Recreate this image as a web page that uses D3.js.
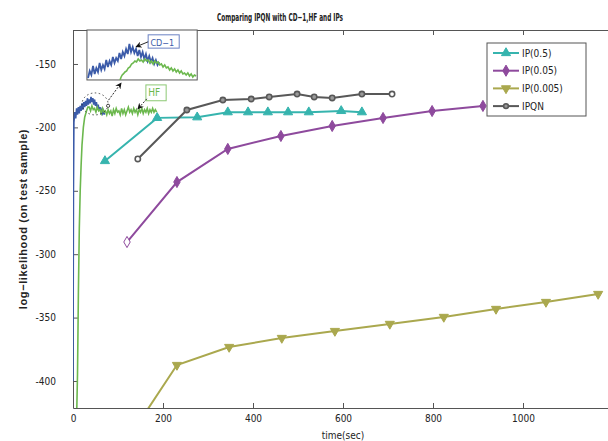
<!DOCTYPE html>
<html lang="en">
<head>
<meta charset="UTF-8">
<title>Comparing IPQN with CD-1, HF and IPs</title>
<script src="https://cdn.jsdelivr.net/npm/d3@7"></script>
<style>
  body { margin: 0; background: #fff; }
  text { font-family: "Liberation Sans Narrow", "DejaVu Sans Condensed", "Liberation Sans", sans-serif; fill: #222; }
</style>
</head>
<body>
<script>
// axis ticks
const xTicks = [0, 200, 400, 600, 800, 1000];
const yTicks = [-150, -200, -250, -300, -350, -400];

// IP runs: time (sec) vs log-likelihood on test sample
const ip05Time = [71, 187, 276, 344, 389, 433, 478, 524, 596, 642];
const ip05LL = [-226.5, -192.5, -192, -188, -188, -188, -188, -188, -187, -188];

const ip005Time = [120, 231, 344, 462, 576, 689, 798, 911];
const ip005LL = [-290.4, -243.1, -217, -206.8, -198.9, -192.6, -187.1, -183.1];

const ip0005Time = [120, 231, 347, 464, 582, 704, 824, 940, 1051, 1167];
const ip0005LL = [-447, -387.4, -373.2, -366.1, -360.6, -355, -349.5, -343.2, -337.7, -331.4];

const ipqnTime = [144, 253, 333, 396, 436, 498, 536, 576, 642, 709];
const ipqnLL = [-224.9, -186.3, -178.4, -177.6, -176, -173.7, -176, -176.8, -173.7, -173.7];

// CD-1 and HF traces (noisy, early seconds)
const cdTime = [0, 1, 2, 4, 6, 8, 10, 12, 14, 16, 18, 20, 22, 24, 26, 28, 30, 32, 34, 36, 38,
  40, 42, 44, 46, 48, 50, 52, 54, 56, 58, 60, 62, 64, 66, 68, 70];
const cdLL = [-400, -250, -196, -188, -193, -185, -190, -184, -189, -183, -187, -181, -186, -180,
  -184, -179, -183, -177, -182, -178, -181, -176, -180, -177, -182, -178, -183, -180, -185, -182,
  -187, -184, -188, -186, -189, -187, -190];

const hfTime = [8, 10, 12, 14, 16, 18, 20, 23, 26, 30, 33,
  36, 39, 42, 45, 48, 51, 54, 57, 60, 63, 66, 69, 72, 75, 78, 81, 84, 87, 90, 93,
  96, 99, 102, 105, 108, 111, 114, 117, 120, 123, 126, 129, 132, 135, 138, 141, 144, 147, 150, 153,
  156, 159, 162, 165, 168, 171, 174, 177, 180, 183, 186];
const hfLL = [-430, -395, -330, -280, -250, -230, -214, -200, -192, -187, -184,
  -184, -187, -183, -186, -185, -188, -184, -187, -186, -189, -185, -188, -187, -190, -186, -189, -187, -191, -186, -189,
  -185, -188, -187, -190, -185, -189, -186, -190, -187, -184, -188, -186, -189, -185, -188, -186, -190, -186, -188, -185,
  -189, -186, -188, -185, -189, -186, -188, -185, -188, -186, -188];

// zoomed inset (relative units)
const insetCdU = [1, 2.5, 4, 5.5, 7, 8.5, 10, 11.5, 13, 14.5, 16, 17.5, 19, 20.5, 22, 23.5, 25, 26.5, 28, 29.5,
  31, 32.5, 34, 35.5, 37, 38.5, 40, 41.5, 43, 44.5, 46, 47.5, 49, 50.5, 52, 53.5, 55, 56.5, 58, 59.5, 61, 62.5, 64, 65.5];
const insetCdV = [2, 9, 5, 14, 6, 12, 8, 17, 10, 15, 11, 20, 13, 19, 15, 23, 17, 22, 19, 27,
  21, 28, 24, 31, 26, 36, 28, 33, 27, 31, 24, 30, 23, 28, 21, 26, 19, 24, 18, 22, 16, 20, 15, 18];
const insetHfU = [30, 31, 32, 33, 34.5, 36, 37.5, 39, 40.5, 42, 43.5, 45, 46.5, 48, 49.5, 51, 52.5, 54, 55.5, 57,
  58.5, 60, 61.5, 63, 64.5, 66, 67.5, 69, 70.5, 72, 73.5, 75, 76.5, 78, 79.5, 81, 82.5, 84, 85.5, 87,
  88.5, 90, 91.5, 93, 94.5, 96, 97.5, 99];
const insetHfV = [0, 3, 5, 6, 8, 9, 12, 13, 16, 17, 19, 18, 21, 19, 20, 18, 21, 19, 20, 17,
  19, 16, 19, 17, 18, 15, 16, 13, 15, 12, 13, 10, 12, 9, 11, 8, 10, 7, 9, 6, 7, 5, 7, 4, 6, 3, 5, 4];

const series = [
  { name: "IP(0.5)", time: ip05Time, ll: ip05LL, color: "#36b4ae", symbol: d3.symbolTriangle, rot: 0 },
  { name: "IP(0.05)", time: ip005Time, ll: ip005LL, color: "#8e4a9d", symbol: d3.symbolDiamond, rot: 0 },
  { name: "IP(0.005)", time: ip0005Time, ll: ip0005LL, color: "#aaa84e", symbol: d3.symbolTriangle, rot: 180 },
  { name: "IPQN", time: ipqnTime, ll: ipqnLL, color: "#585858", symbol: d3.symbolCircle, rot: 0 }
];

const width = 608, height = 441;
const x = d3.scaleLinear().domain([0, 1200]).range([73, 613]);
const y = d3.scaleLinear().domain([-421.3, -123.2]).range([408, 30]);

const svg = d3.select("body").append("svg")
  .attr("width", width)
  .attr("height", height);

const defs = svg.append("defs");
defs.append("clipPath").attr("id", "plot")
  .append("rect").attr("x", 73).attr("y", 30).attr("width", 540).attr("height", 378);
defs.append("marker").attr("id", "head")
  .attr("viewBox", "0 0 10 10").attr("refX", 9).attr("refY", 5)
  .attr("markerWidth", 7).attr("markerHeight", 7).attr("orient", "auto")
  .append("path").attr("d", "M0,0L10,5L0,10L3,5Z").attr("fill", "#111");

// axes, matlab style ticks pointing inward
svg.append("g")
  .attr("transform", "translate(0,408)")
  .call(d3.axisBottom(x).tickValues(xTicks).tickSize(-5).tickSizeOuter(0).tickPadding(7).tickFormat(d => String(d)))
  .call(g => g.selectAll("text").attr("font-size", 10));
svg.append("g")
  .attr("transform", "translate(0,30)")
  .call(d3.axisTop(x).tickValues(xTicks).tickSize(-5).tickSizeOuter(0).tickFormat(""));
svg.append("g")
  .attr("transform", "translate(73,0)")
  .call(d3.axisLeft(y).tickValues(yTicks).tickSize(-5).tickSizeOuter(0).tickPadding(17).tickFormat(d => String(d)))
  .call(g => g.selectAll("text").attr("font-size", 10));
svg.selectAll(".domain, .tick line").attr("stroke", "#555");

// title and axis labels
svg.append("text")
  .attr("x", 280).attr("y", 21)
  .attr("text-anchor", "middle")
  .attr("font-size", 11).attr("font-weight", "bold")
  .attr("textLength", 126).attr("lengthAdjust", "spacingAndGlyphs")
  .text("Comparing IPQN with CD\u22121,HF and IPs");
svg.append("text")
  .attr("x", 343).attr("y", 439)
  .attr("text-anchor", "middle")
  .attr("font-size", 10)
  .text("time(sec)");
svg.append("text")
  .attr("transform", "translate(27,219) rotate(-90)")
  .attr("text-anchor", "middle")
  .attr("font-size", 11).attr("font-weight", "bold")
  .style("font-family", "'Liberation Sans', Arial, sans-serif")
  .style("letter-spacing", "0.6px")
  .text("log\u2212likelihood (on test sample)");

const plot = svg.append("g").attr("clip-path", "url(#plot)");
const line = d3.line().x(d => x(d[0])).y(d => y(d[1]));

// CD-1 and HF
plot.append("path")
  .attr("d", line(d3.zip(cdTime, cdLL)))
  .attr("fill", "none").attr("stroke", "#3b5ba9").attr("stroke-width", 1.6);
plot.append("path")
  .attr("d", line(d3.zip(hfTime, hfLL)))
  .attr("fill", "none").attr("stroke", "#6cb84e").attr("stroke-width", 1.6);

// IP and IPQN
series.forEach(s => {
  const pts = d3.zip(s.time, s.ll);
  plot.append("path")
    .attr("d", line(pts))
    .attr("fill", "none").attr("stroke", s.color).attr("stroke-width", 2);
  plot.selectAll(null)
    .data(pts)
    .join("path")
    .attr("transform", d => `translate(${x(d[0])},${y(d[1])}) rotate(${s.rot})`)
    .attr("d", d3.symbol(s.symbol, s.symbol === d3.symbolCircle ? 22 : 36))
    .attr("fill", (d, i) => {
      if (s.name === "IPQN") return (i === 0 || i === pts.length - 1) ? "#fff" : "#9a9a9a";
      if (s.name === "IP(0.05)" && i === 0) return "#fff";
      return s.color;
    })
    .attr("stroke", s.color)
    .attr("stroke-width", s.symbol === d3.symbolCircle ? 1.6 : 1);
});

// annotations around the CD-1/HF trace
const ann = svg.append("g");
ann.append("ellipse")
  .attr("cx", x(49)).attr("cy", y(-181.5)).attr("rx", 13).attr("ry", 11)
  .attr("fill", "none").attr("stroke", "#222").attr("stroke-width", 0.8)
  .attr("stroke-dasharray", "1.5,2.5");
ann.append("circle")
  .attr("cx", x(78)).attr("cy", y(-183)).attr("r", 1.6)
  .attr("fill", "#fff").attr("stroke", "#222").attr("stroke-width", 0.8);
ann.append("line")
  .attr("x1", x(79)).attr("y1", y(-178.5)).attr("x2", x(107)).attr("y2", y(-165))
  .attr("stroke", "#111").attr("stroke-width", 0.9).attr("stroke-dasharray", "2,1.5")
  .attr("marker-end", "url(#head)");

// inset
const insetX = d3.scaleLinear().domain([0, 100]).range([x(31), x(276)]);
const insetY = d3.scaleLinear().domain([0, 50]).range([y(-162.6), y(-123.2)]);
defs.append("clipPath").attr("id", "inset")
  .append("rect").attr("x", x(31)).attr("y", y(-123.2))
  .attr("width", x(276) - x(31)).attr("height", y(-162.6) - y(-123.2));
ann.append("rect")
  .attr("x", x(31)).attr("y", y(-123.2))
  .attr("width", x(276) - x(31)).attr("height", y(-162.6) - y(-123.2))
  .attr("fill", "#fff").attr("stroke", "#555").attr("stroke-width", 1);
const insetLine = d3.line().x(d => insetX(d[0])).y(d => insetY(d[1]));
const inset = ann.append("g").attr("clip-path", "url(#inset)");
inset.append("path")
  .attr("d", insetLine(d3.zip(insetCdU, insetCdV)))
  .attr("fill", "none").attr("stroke", "#3b5ba9").attr("stroke-width", 1.8);
inset.append("path")
  .attr("d", insetLine(d3.zip(insetHfU, insetHfV)))
  .attr("fill", "none").attr("stroke", "#6cb84e").attr("stroke-width", 1.6);

// CD-1 label
ann.append("rect")
  .attr("x", x(167)).attr("y", y(-127))
  .attr("width", x(236) - x(167)).attr("height", y(-137.5) - y(-127))
  .attr("fill", "#fff").attr("stroke", "#6b82c4").attr("stroke-width", 1);
ann.append("text")
  .attr("x", x(172)).attr("y", y(-135.5))
  .attr("font-size", 9).style("fill", "#3b5ba9")
  .text("CD\u22121");
ann.append("line")
  .attr("x1", x(167)).attr("y1", y(-132.5)).attr("x2", x(140)).attr("y2", y(-136.5))
  .attr("stroke", "#111").attr("stroke-width", 0.9).attr("marker-end", "url(#head)");

// HF label
ann.append("rect")
  .attr("x", x(162)).attr("y", y(-166.5))
  .attr("width", x(207) - x(162)).attr("height", y(-179) - y(-166.5))
  .attr("fill", "#fff").attr("stroke", "#8cc874").attr("stroke-width", 1);
ann.append("text")
  .attr("x", x(167)).attr("y", y(-175))
  .attr("font-size", 10).style("fill", "#6cb84e")
  .text("HF");
ann.append("line")
  .attr("x1", x(164)).attr("y1", y(-177.5)).attr("x2", x(144)).attr("y2", y(-185.5))
  .attr("stroke", "#111").attr("stroke-width", 0.9).attr("stroke-dasharray", "2,1.5")
  .attr("marker-end", "url(#head)");

// legend
const legend = svg.append("g").attr("transform", "translate(487,43)");
legend.append("rect")
  .attr("width", 99).attr("height", 73)
  .attr("fill", "#fff").attr("stroke", "#555").attr("stroke-width", 1);
const item = legend.selectAll("g.item")
  .data(series)
  .join("g")
  .attr("class", "item")
  .attr("transform", (d, i) => `translate(0,${10 + i * 17.7})`);
item.append("line")
  .attr("x1", 6).attr("x2", 32)
  .attr("stroke", d => d.color).attr("stroke-width", 2);
item.append("path")
  .attr("transform", d => `translate(19,0) rotate(${d.rot})`)
  .attr("d", d => d3.symbol(d.symbol, d.symbol === d3.symbolCircle ? 18 : 36)())
  .attr("fill", d => d.symbol === d3.symbolCircle ? "#9a9a9a" : d.color)
  .attr("stroke", d => d.color)
  .attr("stroke-width", d => d.symbol === d3.symbolCircle ? 1.6 : 1);
item.append("text")
  .attr("x", 35).attr("dy", "0.35em")
  .attr("font-size", 10)
  .text(d => d.name);
</script>
</body>
</html>
